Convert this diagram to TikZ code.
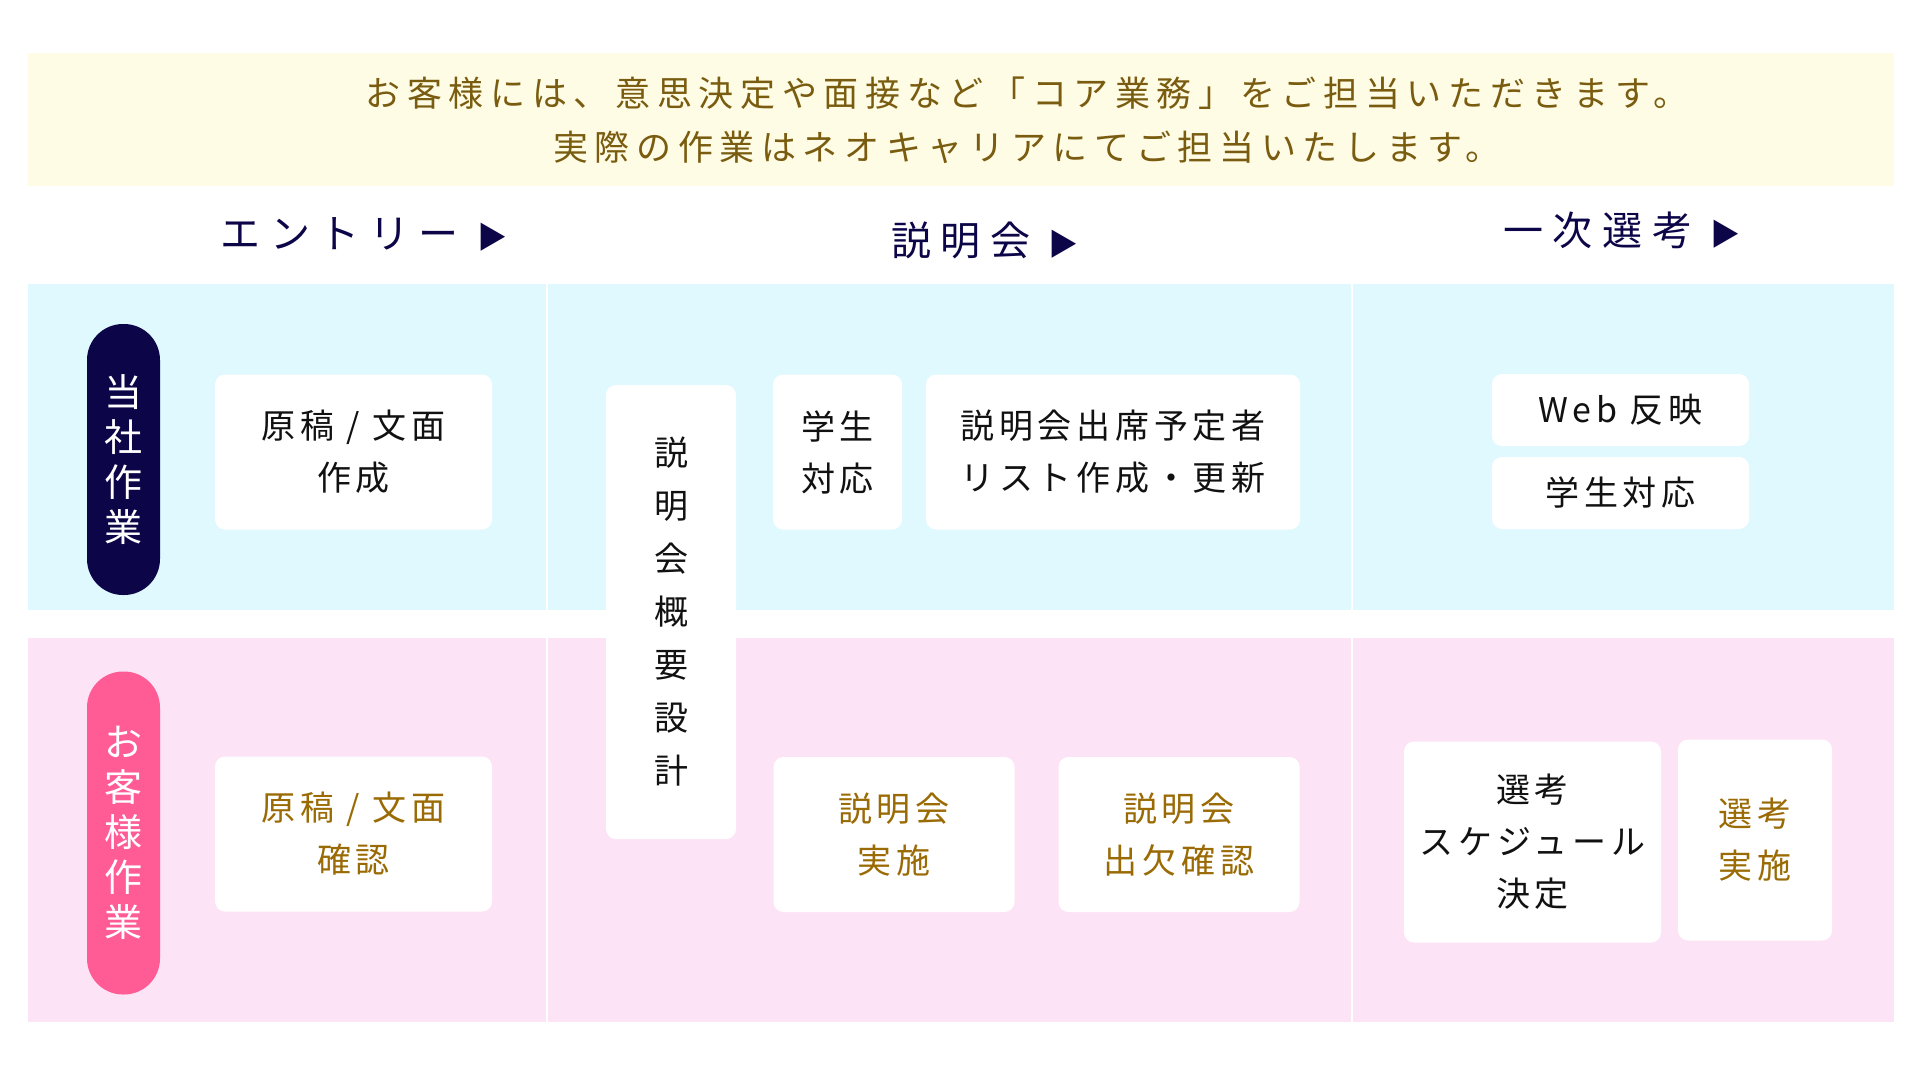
\documentclass[tikz,border=0pt]{standalone}
\usepackage{fontspec}
\setmainfont{Noto Sans CJK JP}
\newfontfamily\trk[LetterSpace=14]{Noto Sans CJK JP}
\newfontfamily\trkn[LetterSpace=19]{Noto Sans CJK JP}
\newfontfamily\trkh[LetterSpace=24]{Noto Sans CJK JP}
\newcommand{\headtri}{{\fontsize{30}{30}\selectfont ▶}}
\definecolor{bandY}{HTML}{FEFCE4}
\definecolor{bandB}{HTML}{E0F9FE}
\definecolor{bandP}{HTML}{FDE3F6}
\definecolor{navy}{HTML}{0C0648}
\definecolor{pinkpill}{HTML}{FF5C96}
\definecolor{gold}{HTML}{9A6A04}
\definecolor{olive}{HTML}{7A5C10}
\definecolor{ink}{HTML}{111111}
\begin{document}
\begin{tikzpicture}[x=1pt,y=-1pt,
  box/.style={fill=white, rounded corners=10pt, inner sep=0pt, align=center,
    font=\trk\fontsize{34}{52}\selectfont, text=ink},
  custbox/.style={box, text=gold},
  vbox/.style={box, font=\trk\fontsize{34}{53}\selectfont},
  pill/.style={rounded corners=36pt, inner sep=0pt, align=center, text=white,
    minimum width=73, font=\fontsize{38}{45}\selectfont},
  colhead/.style={text=navy, font=\trkh\fontsize{40}{48}\selectfont, inner sep=0pt},
  note/.style={text=olive, align=center, font=\trkn\fontsize{35}{54}\selectfont, inner sep=0pt},
  sep/.style={white, line width=2pt}]
\useasboundingbox (0,0) rectangle (1920,1080);
\fill[white] (0,0) rectangle (1920,1080);
% bands
\fill[bandY] (28,53) rectangle (1894,186);
\fill[bandB] (28,284) rectangle (1894,610);
\fill[bandP] (28,638) rectangle (1894,1022);
\coordinate (s1t) at (547,284); \coordinate (s1b) at (547,1022);
\coordinate (s2t) at (1352,284); \coordinate (s2b) at (1352,1022);
\draw[sep] (s1t) -- (s1b);
\draw[sep] (s2t) -- (s2b);
% note
\node[note] (note) at (1027,120) {お客様には、意思決定や面接など「コア業務」をご担当いただきます。\\実際の作業はネオキャリアにてご担当いたします。};
% column heads
\node[colhead] (h1) at (364,234) {エントリー \headtri};
\node[colhead] (h2) at (985,240) {説明会 \headtri};
\node[colhead] (h3) at (1622,230) {一次選考 \headtri};
% pills
\node[pill, fill=navy, minimum height=271] (p1) at (123.5,459.5) {当\\社\\作\\業};
\node[pill, fill=pinkpill, minimum height=323] (p2) at (123.5,833) {お\\客\\様\\作\\業};
% upper boxes
\node[box, minimum width=277, minimum height=155] (a1) at (353.5,452) {原稿 / 文面\\作成};
\node[vbox, minimum width=130, minimum height=454] (b0) at (671,612) {説\\明\\会\\概\\要\\設\\計};
\node[box, minimum width=129, minimum height=155] (b1) at (837.5,452) {学生\\対応};
\node[box, minimum width=374, minimum height=155] (b2) at (1113,452) {説明会出席予定者\\リスト作成・更新};
\node[box, minimum width=257, minimum height=72] (c1) at (1620.5,410) {Web 反映};
\node[box, minimum width=257, minimum height=72] (c2) at (1620.5,493) {学生対応};
% lower boxes
\node[custbox, minimum width=277, minimum height=155] (a2) at (353.5,834) {原稿 / 文面\\確認};
\node[custbox, minimum width=241, minimum height=155] (b3) at (894,834.5) {説明会\\実施};
\node[custbox, minimum width=241, minimum height=155] (b4) at (1179,834.5) {説明会\\出欠確認};
\node[box, minimum width=257, minimum height=201] (c3) at (1532.5,842) {選考\\スケジュール\\決定};
\node[custbox, minimum width=154, minimum height=201] (c4) at (1755,840) {選考\\実施};
\end{tikzpicture}
\end{document}
